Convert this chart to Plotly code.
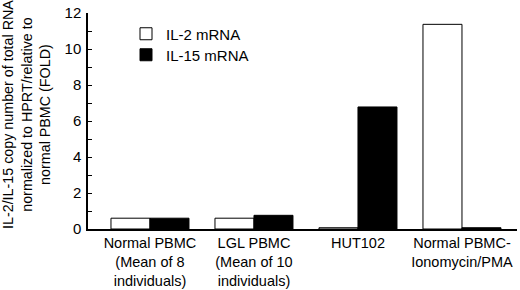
import plotly.graph_objects as go

categories = ["Normal PBMC<br>(Mean of 8<br>individuals)",
              "LGL PBMC<br>(Mean of 10<br>individuals)",
              "HUT102",
              "Normal PBMC-<br>Ionomycin/PMA"]
il2 = [0.6, 0.6, 0.07, 11.37]
il15 = [0.6, 0.76, 6.78, 0.07]
y_ticks = [0, 2, 4, 6, 8, 10, 12]

FONT = "Liberation Sans, Arial, Helvetica, sans-serif"

fig = go.Figure()
fig.add_trace(go.Bar(x=categories, y=il2, name="IL-2 mRNA", legend="legend",
                     marker=dict(color="white", line=dict(color="black", width=1))))
fig.add_trace(go.Bar(x=categories, y=il15, name="IL-15 mRNA", legend="legend2",
                     marker=dict(color="black", line=dict(color="black", width=1))))

leg_common = dict(xanchor="left", yanchor="middle", bgcolor="rgba(0,0,0,0)",
                  font=dict(size=15, family=FONT, color="black"), itemwidth=30,
                  borderwidth=0)

fig.update_layout(
    width=520, height=290,
    margin=dict(l=88, r=3, t=13, b=61, pad=0, autoexpand=False),
    paper_bgcolor="white", plot_bgcolor="white",
    font=dict(family=FONT, size=15, color="black"),
    barmode="group", bargap=0.25, bargroupgap=0,
    showlegend=True,
    legend=dict(x=(126 - 88) / 429, y=(229 - 34) / 216, **leg_common),
    legend2=dict(x=(126 - 88) / 429, y=(229 - 55) / 216, **leg_common),
    xaxis=dict(range=[-0.596, 3.529], showline=True, linecolor="black", linewidth=1.5,
               ticks="", showgrid=False, zeroline=False, automargin=False,
               tickfont=dict(size=14.5, family=FONT)),
    yaxis=dict(range=[0, 12], tickvals=y_ticks, showline=True, linecolor="black",
               linewidth=1.5, ticks="inside", ticklen=4, tickwidth=1, tickcolor="black",
               minor=dict(dtick=1, ticks="inside", ticklen=4, tickwidth=1, tickcolor="black"),
               showgrid=False, zeroline=False, ticklabelstandoff=2, automargin=False,
               tickfont=dict(size=15, family=FONT)),
    annotations=[dict(
        text="IL-2/IL-15 copy number of total RNA<br>normalized to HPRT/relative to<br>normal PBMC (FOLD)",
        xref="paper", yref="paper", x=(26 - 88) / 429, y=(229 - 115) / 216,
        xanchor="center", yanchor="middle", textangle=-90, showarrow=False,
        font=dict(size=14.3, family=FONT, color="black"))],
)

fig.write_html("out.html", config={"displayModeBar": False},
               post_script="document.body.style.margin='0px';")
